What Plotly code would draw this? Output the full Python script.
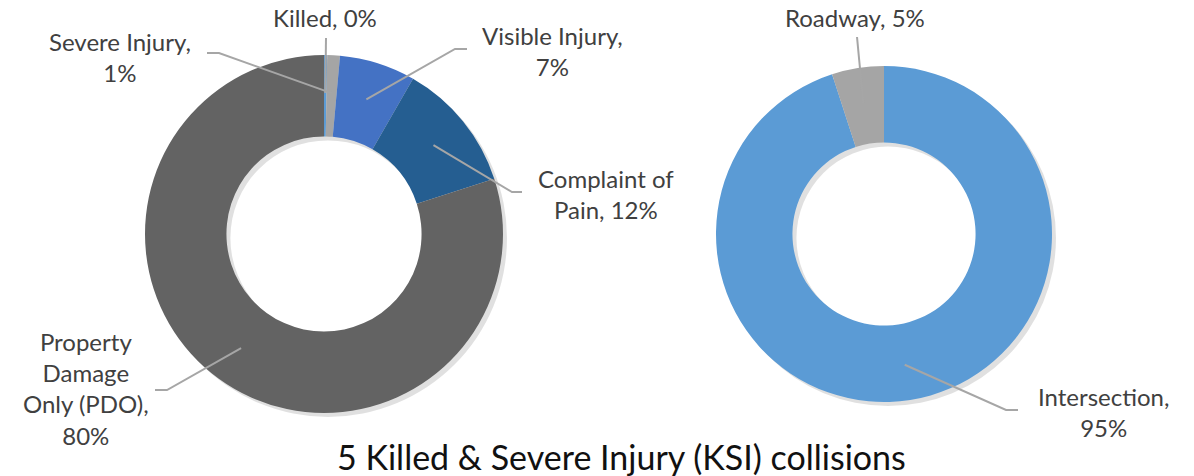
import math
import plotly.graph_objects as go

# ---- data ----
sev_labels = ["Killed", "Severe Injury", "Visible Injury", "Complaint of Pain", "Property Damage Only (PDO)"]
sev_values = [1, 4, 24, 41, 280]
sev_colors = ["#5B9BD5", "#A5A5A5", "#4472C4", "#255E91", "#636363"]
sev_text = ["Killed, {p}", "Severe Injury,<br>{p}", "Visible Injury,<br>{p}",
            "Complaint of<br>Pain, {p}", "Property<br>Damage<br>Only (PDO),<br>{p}"]

loc_labels = ["Intersection", "Roadway"]
loc_values = [95, 5]
loc_colors = ["#5B9BD5", "#A5A5A5"]
loc_text = ["Intersection,<br>{p}", "Roadway, {p}"]

title_text = "5 Killed & Severe Injury (KSI) collisions"

# ---- layout geometry (pixels) ----
W, H = 1194, 476
HOLE = 0.545
LEFT = dict(cx=324, cy=234, r=179)
RIGHT = dict(cx=884, cy=234, r=168)

# label centre, line start (near label), optional elbow
sev_label_pos = [
    dict(lx=325, ly=18, start=(326, 38), elbow=None),
    dict(lx=120, ly=57, start=(207, 53), elbow=(219, 53)),
    dict(lx=552, ly=51, start=(467, 49), elbow=(455, 49)),
    dict(lx=606, ly=194, start=(522, 192), elbow=(512, 192)),
    dict(lx=86, ly=388, start=(155, 390), elbow=(167, 390)),
]
loc_label_pos = [
    dict(lx=1103, ly=412, start=(1018, 410), elbow=(1006, 410)),
    dict(lx=855, ly=18, start=(857, 37), elbow=None),
]


def px2paper(x, y):
    return x / W, 1 - y / H


def domain(g):
    return dict(x=[(g["cx"] - g["r"]) / W, (g["cx"] + g["r"]) / W],
                y=[(H - g["cy"] - g["r"]) / H, (H - g["cy"] + g["r"]) / H])


def shadow_domain(g, off=4):
    return dict(x=[(g["cx"] + off - g["r"]) / W, (g["cx"] + off + g["r"]) / W],
                y=[(H - g["cy"] - off - g["r"]) / H, (H - g["cy"] - off + g["r"]) / H])


fig = go.Figure()

for g in (LEFT, RIGHT):
    fig.add_trace(go.Pie(values=[1], labels=["s"], domain=shadow_domain(g), hole=HOLE,
                         marker=dict(colors=["rgba(0,0,0,0.12)"], line=dict(width=0)),
                         textinfo="none", hoverinfo="skip", showlegend=False, sort=False))

fig.add_trace(go.Pie(values=sev_values, labels=sev_labels, domain=domain(LEFT), hole=HOLE,
                     marker=dict(colors=sev_colors, line=dict(width=0)),
                     sort=False, direction="clockwise", rotation=0,
                     textinfo="none", showlegend=False))
fig.add_trace(go.Pie(values=loc_values, labels=loc_labels, domain=domain(RIGHT), hole=HOLE,
                     marker=dict(colors=loc_colors, line=dict(width=0)),
                     sort=False, direction="clockwise", rotation=0,
                     textinfo="none", showlegend=False))

shapes = []
annotations = []
LABEL_FONT = dict(family="Lato, Carlito, Calibri, sans-serif", size=24, color="#404040")


def add_labels(values, texts, positions, g):
    total = sum(values)
    cum = 0
    for v, t, pos in zip(values, texts, positions):
        mid = (cum + v / 2) / total * 2 * math.pi
        cum += v
        rr = g["r"] * (1 + HOLE) / 2 * 1.02
        ex = g["cx"] + rr * math.sin(mid)
        ey = g["cy"] - rr * math.cos(mid)
        pts = [pos["start"]]
        if pos["elbow"]:
            pts.append(pos["elbow"])
        pts.append((ex, ey))
        path = ""
        for i, (x, y) in enumerate(pts):
            px, py = px2paper(x, y)
            path += ("M" if i == 0 else " L") + f" {px:.5f},{py:.5f}"
        shapes.append(dict(type="path", path=path, xref="paper", yref="paper",
                           line=dict(color="#A6A6A6", width=2)))
        pct = f"{round(v / total * 100)}%"
        ax, ay = px2paper(pos["lx"], pos["ly"])
        annotations.append(dict(x=ax, y=ay, xref="paper", yref="paper", showarrow=False,
                                text=t.format(p=pct), align="center", font=LABEL_FONT,
                                xanchor="center", yanchor="middle"))


add_labels(sev_values, sev_text, sev_label_pos, LEFT)
add_labels(loc_values, loc_text, loc_label_pos, RIGHT)

tx, ty = px2paper(621, 456)
annotations.append(dict(x=tx, y=ty, xref="paper", yref="paper", showarrow=False,
                        text=title_text, xanchor="center", yanchor="middle",
                        font=dict(family="Lato, Carlito, Calibri, sans-serif", size=34, color="#111111")))

fig.update_layout(width=W, height=H, margin=dict(l=0, r=0, t=0, b=0),
                  paper_bgcolor="white", plot_bgcolor="white",
                  shapes=shapes, annotations=annotations)

fig.write_html("out.html", config={"displayModeBar": False},
               post_script="document.body.style.margin='0';document.body.style.overflow='hidden';")
